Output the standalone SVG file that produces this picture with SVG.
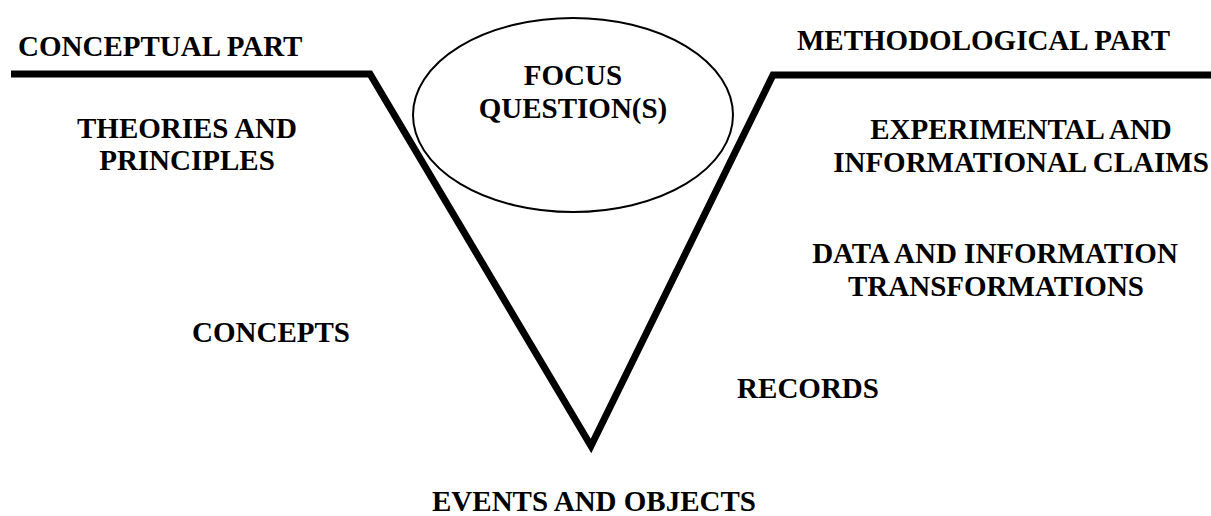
<svg xmlns="http://www.w3.org/2000/svg" width="1211" height="516" viewBox="0 0 1211 516">
<style>
text{font-family:"Liberation Serif","Times New Roman",serif;font-weight:bold;font-size:29px;fill:#000}
.c{text-anchor:middle}
.v{fill:none;stroke:#000;stroke-width:7;stroke-linejoin:miter}
</style>
<rect width="1211" height="516" fill="#fff"/>
<g id="connectors">
<path class="v" d="M11,74 L370,74 L591,446 L773,75 L1211,75"/>
</g>
<g id="conceptual-part"><text x="18" y="56">CONCEPTUAL PART</text></g>
<g id="methodological-part"><text x="797" y="50">METHODOLOGICAL PART</text></g>
<g id="focus-questions">
<ellipse cx="573" cy="115" rx="160" ry="97" fill="none" stroke="#000" stroke-width="2"/>
<text class="c" x="573" y="85">FOCUS</text>
<text class="c" x="573" y="118">QUESTION(S)</text>
</g>
<g id="theories"><text class="c" x="187" y="138">THEORIES AND</text><text class="c" x="187" y="170">PRINCIPLES</text></g>
<g id="concepts"><text class="c" x="271" y="342">CONCEPTS</text></g>
<g id="claims"><text class="c" x="1021" y="139">EXPERIMENTAL AND</text><text class="c" x="1021" y="172">INFORMATIONAL CLAIMS</text></g>
<g id="transformations"><text class="c" x="995" y="263">DATA AND INFORMATION</text><text class="c" x="996" y="296">TRANSFORMATIONS</text></g>
<g id="records"><text class="c" x="808" y="398">RECORDS</text></g>
<g id="events"><text class="c" x="594" y="511">EVENTS AND OBJECTS</text></g>
</svg>
